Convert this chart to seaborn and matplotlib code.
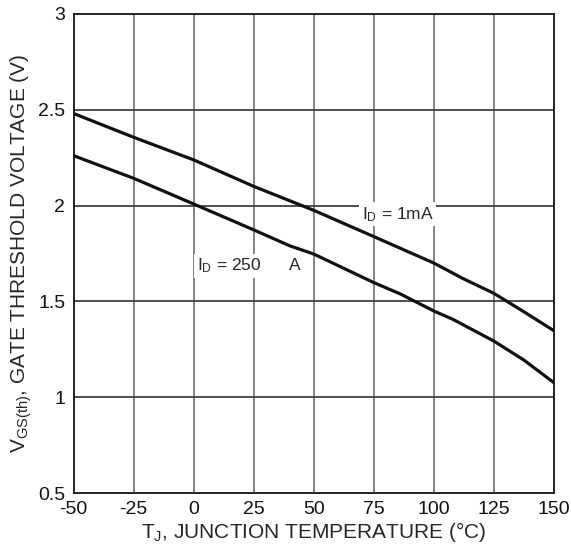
import numpy as np
import pandas as pd
import matplotlib
matplotlib.use('Agg')
import matplotlib.pyplot as plt
import seaborn as sns

# curve
temp_1ma = [-50, -25, 0, 25, 50, 75, 100, 112, 125, 137.5, 150]
vgs_1ma = [2.48, 2.356, 2.238, 2.10, 1.975, 1.838, 1.70, 1.62, 1.542, 1.446, 1.347]

temp_250ua = [-50, -25, 0, 25, 40, 50, 75, 86, 100, 108, 125, 137.5, 150]
vgs_250ua = [2.26, 2.142, 2.008, 1.873, 1.79, 1.747, 1.598, 1.539, 1.45, 1.406, 1.293, 1.194, 1.076]

x_ticks = [-50, -25, 0, 25, 50, 75, 100, 125, 150]
y_ticks = [0.5, 1, 1.5, 2, 2.5, 3]
y_tick_labels = ['0.5', '1', '1.5', '2', '2.5', '3']

df_1ma = pd.DataFrame({'T': temp_1ma, 'V': vgs_1ma})
df_250 = pd.DataFrame({'T': temp_250ua, 'V': vgs_250ua})

sns.set_style("white")
plt.rcParams['font.family'] = ['Liberation Sans', 'DejaVu Sans']
plt.rcParams['mathtext.fontset'] = 'custom'
plt.rcParams['mathtext.rm'] = 'Liberation Sans'
plt.rcParams['mathtext.it'] = 'Liberation Sans'

fig = plt.figure(figsize=(5.71, 5.54), dpi=100)
ax = fig.add_axes([0.129, 0.110, 0.841, 0.865])

for x in x_ticks[1:-1]:
    ax.axvline(x, color='#7a7a7a', lw=1.3, zorder=1)
for y in y_ticks[1:-1]:
    ax.axhline(y, color='#404040', lw=1.3, zorder=1)

sns.lineplot(data=df_1ma, x='T', y='V', color='#111111', lw=2.3, ax=ax, zorder=3)
sns.lineplot(data=df_250, x='T', y='V', color='#111111', lw=2.3, ax=ax, zorder=3)

ax.set_xlim(-50, 150)
ax.set_ylim(0.5, 3)
ax.set_xticks(x_ticks)
ax.set_xticklabels([str(t) for t in x_ticks])
ax.set_yticks(y_ticks)
ax.set_yticklabels(y_tick_labels)
ax.tick_params(length=0, labelsize=14, colors='#111111')
ax.tick_params(axis='x', pad=6)
ax.tick_params(axis='y', pad=6)

for s in ax.spines.values():
    s.set_color('#111111')
    s.set_linewidth(1.3)

ax.set_xlabel(r'T$_\mathregular{J}$, JUNCTION TEMPERATURE (°C)', fontsize=15, labelpad=1)
ax.set_ylabel(r'V$_\mathregular{GS(th)}$, GATE THRESHOLD VOLTAGE (V)', fontsize=15, labelpad=3)

box = dict(facecolor='white', edgecolor='none', pad=2)
ax.text(70, 1.955, r'I$_\mathregular{D}$ = 1mA', fontsize=12.5, va='center', bbox=box, zorder=4)
ax.text(1.4, 1.685, r'I$_\mathregular{D}$ = 250      A', fontsize=12.5, va='center', bbox=box, zorder=4)

plt.savefig('out.png', dpi=100)
